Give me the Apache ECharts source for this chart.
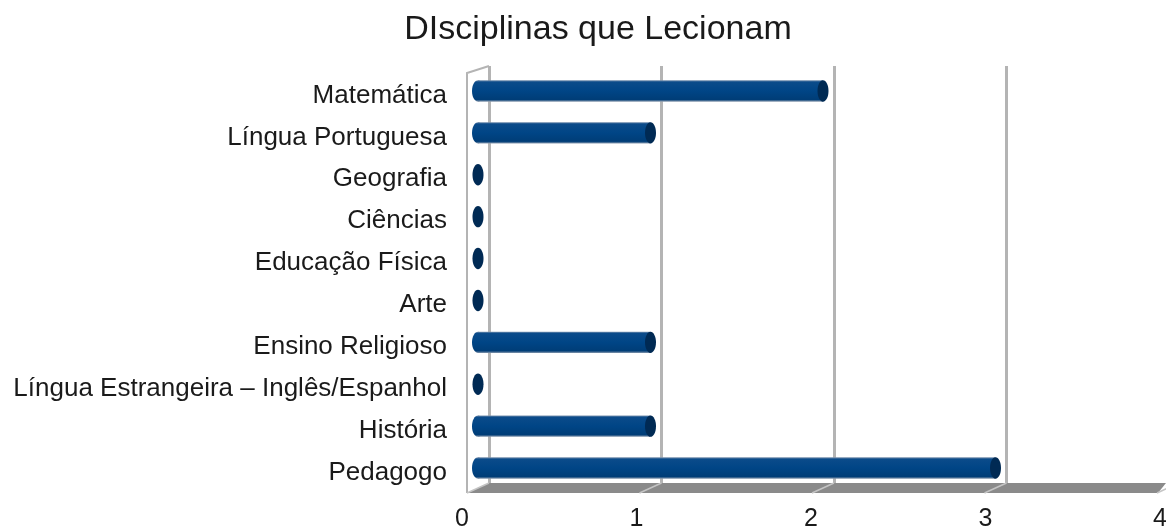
<!DOCTYPE html>
<html>
<head>
<meta charset="utf-8">
<script src="https://cdn.jsdelivr.net/npm/echarts@6/dist/echarts.min.js"></script>
<style>
  html, body { margin: 0; padding: 0; background: #fff; }
  #chart { width: 1166px; height: 530px; }
</style>
</head>
<body>
<div id="chart"></div>
<script>
// dados do grafico
var categories = ['Matemática', 'Língua Portuguesa', 'Geografia', 'Ciências', 'Educação Física',
  'Arte', 'Ensino Religioso', 'Língua Estrangeira – Inglês/Espanhol', 'História', 'Pedagogo'];
var values = [2, 1, 0, 0, 0, 0, 1, 0, 1, 3];
var tickValues = [0, 1, 2, 3, 4];

var FONT = '"Liberation Sans", Arial, sans-serif';
var BAR_BLUE = '#004586';
var CAP_BLUE = '#002a54';

// parede / piso (decoracao 3D)
var wallFrontX = 467, wallBackX = 489, wallTop = 66, floorBack = 483, floorFront = 493, unit = 172.5;

var myChart = echarts.init(document.getElementById('chart'));

function renderBar(params, api) {
  var v = api.value(0);
  var idx = api.value(1);
  var start = api.coord([0, idx]);
  var end = api.coord([v, idx]);
  var band = api.size([0, 1])[1];
  var ry = band * 0.255;
  var children = [];
  if (v > 0) {
    var grad = new echarts.graphic.LinearGradient(0, 0, 0, 1, [
      {offset: 0, color: '#7c94b0'},
      {offset: 0.08, color: '#0b4b8a'},
      {offset: 0.5, color: BAR_BLUE},
      {offset: 0.9, color: '#003d77'},
      {offset: 1, color: '#8a9bb0'}
    ]);
    children.push({
      type: 'ellipse',
      shape: {cx: start[0], cy: start[1], rx: 6, ry: ry},
      style: {fill: grad}
    });
    children.push({
      type: 'rect',
      shape: {x: start[0], y: start[1] - ry, width: end[0] - start[0], height: ry * 2},
      style: {fill: grad}
    });
  }
  children.push({
    type: 'ellipse',
    shape: {cx: end[0], cy: end[1], rx: 5.5, ry: ry},
    style: {fill: CAP_BLUE}
  });
  return {type: 'group', children: children};
}

var floorTicks = tickValues.map(function (t) {
  var bx = wallBackX + unit * t;
  return {
    type: 'line', z: 1,
    shape: {x1: bx - 22, y1: floorFront, x2: bx, y2: floorBack},
    style: {stroke: '#c4c4c4', lineWidth: 1.5}
  };
});

myChart.setOption({
  animation: false,
  title: {
    text: 'DIsciplinas que Lecionam',
    left: 593,
    top: 8,
    textAlign: 'center',
    textStyle: {fontFamily: FONT, fontSize: 34, fontWeight: 'normal', color: '#1a1a1a'}
  },
  grid: [
    // barras
    {left: 478, top: 70, width: unit * 4, height: 419, outerBoundsMode: 'none'},
    // linhas de grade (parede do fundo)
    {left: wallBackX, top: wallTop, width: unit * 4, height: floorBack - wallTop, outerBoundsMode: 'none'},
    // rotulos da frente
    {left: 462, top: 0, width: 698, height: floorFront, outerBoundsMode: 'none'}
  ],
  xAxis: [
    {gridIndex: 0, type: 'value', min: 0, max: 4, interval: 1, show: false},
    {
      gridIndex: 1, type: 'value', min: 0, max: 4, interval: 1,
      axisLine: {show: false}, axisTick: {show: false}, axisLabel: {show: false},
      splitLine: {show: true, lineStyle: {color: '#b4b4b4', width: 3}}
    },
    {
      gridIndex: 2, type: 'value', min: 0, max: 4, interval: 1,
      axisLine: {show: false}, axisTick: {show: false}, splitLine: {show: false},
      axisLabel: {margin: 14, fontFamily: FONT, fontSize: 25, color: '#1a1a1a'}
    }
  ],
  yAxis: [
    {
      gridIndex: 0, type: 'category', data: categories, inverse: true,
      axisLine: {show: false}, axisTick: {show: false},
      axisLabel: {
        margin: 31, fontFamily: FONT, fontSize: 26, color: '#1a1a1a',
        formatter: '{a|{value}}',
        rich: {a: {fontFamily: FONT, fontSize: 26, color: '#1a1a1a', padding: [9, 0, 0, 0]}}
      }
    },
    {gridIndex: 1, type: 'value', show: false},
    {gridIndex: 2, type: 'value', show: false}
  ],
  graphic: [
    {
      type: 'polygon', z: 0,
      shape: {points: [[wallFrontX, floorFront], [wallBackX, floorBack], [1166, floorBack], [1158, floorFront]]},
      style: {fill: '#8a8a8a'}
    },
    {
      type: 'polyline', z: 1,
      shape: {points: [[wallFrontX, floorFront], [wallFrontX, wallTop + 7], [wallBackX, wallTop]]},
      style: {stroke: '#b4b4b4', lineWidth: 2, fill: null}
    }
  ].concat(floorTicks),
  series: [{
    type: 'custom',
    xAxisIndex: 0,
    yAxisIndex: 0,
    z: 5,
    renderItem: renderBar,
    encode: {x: 0, y: 1},
    data: values.map(function (v, i) { return [v, i]; })
  }]
});
</script>
</body>
</html>
